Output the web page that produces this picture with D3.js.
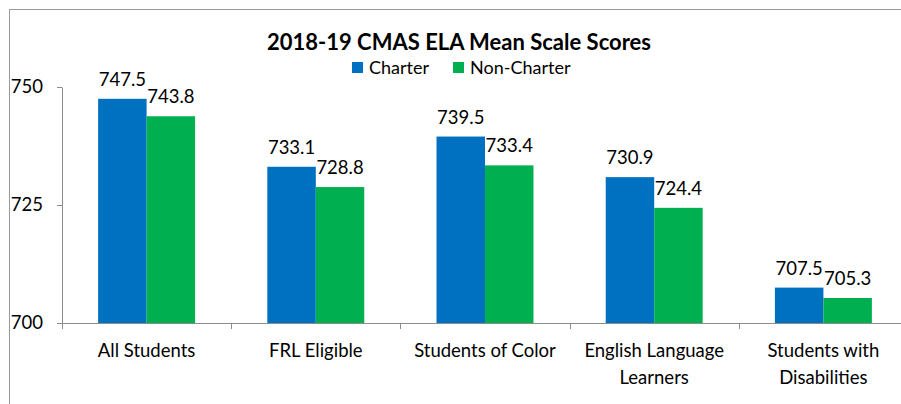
<!DOCTYPE html>
<html>
<head>
<meta charset="utf-8">
<script src="https://cdn.jsdelivr.net/npm/d3@7"></script>
<style>
  html, body { margin: 0; padding: 0; background: #fff; }
  svg { display: block; font-family: Lato, "Open Sans", sans-serif; }
</style>
</head>
<body>
<div id="chart"></div>
<script>
const title = "2018-19 CMAS ELA Mean Scale Scores";
const categories = ["All Students", "FRL Eligible", "Students of Color", "English Language Learners", "Students with Disabilities"];
const seriesNames = ["Charter", "Non-Charter"];
const charter = [747.5, 733.1, 739.5, 730.9, 707.5];
const nonCharter = [743.8, 728.8, 733.4, 724.4, 705.3];
const yTicks = [700, 725, 750];
const colors = ["#0070C0", "#00B050"];

const W = 901, H = 404;
const svg = d3.select("#chart").append("svg").attr("width", W).attr("height", H);

// outer chart border
svg.append("rect").attr("x", 9.5).attr("y", 9.5).attr("width", 905).attr("height", 420)
  .attr("fill", "none").attr("stroke", "#9a9a9a").attr("stroke-width", 1);

const left = 62, bandW = 169.2;
const x0 = d3.scaleBand().domain(categories).range([left, left + bandW * categories.length]).paddingInner(0).paddingOuter(0);
const x1 = d3.scaleBand().domain(seriesNames).range([0, x0.bandwidth()]).paddingInner(0).paddingOuter(0.745);
const y = d3.scaleLinear().domain([700, 750]).range([323, 87]);

// title
svg.append("text").attr("x", 459).attr("y", 50).attr("text-anchor", "middle")
  .attr("font-size", 22).attr("font-weight", "bold").attr("fill", "#000").text(title);

// legend
const legendItems = [{name: seriesNames[0], x: 352}, {name: seriesNames[1], x: 453}];
legendItems.forEach((d, i) => {
  svg.append("rect").attr("x", d.x).attr("y", 62).attr("width", 11).attr("height", 11).attr("fill", colors[i]);
  svg.append("text").attr("x", d.x + 17).attr("y", 73.5).attr("font-size", 18).attr("fill", "#000").text(d.name);
});

// bars
const data = categories.map((c, i) => ({cat: c, vals: [charter[i], nonCharter[i]]}));
const groups = svg.append("g").selectAll("g").data(data).join("g")
  .attr("transform", d => `translate(${x0(d.cat)},0)`);
groups.selectAll("rect").data(d => d.vals.map((v, j) => ({v, s: seriesNames[j], j})))
  .join("rect")
  .attr("x", d => x1(d.s)).attr("width", x1.bandwidth())
  .attr("y", d => y(d.v)).attr("height", d => y(700) - y(d.v))
  .attr("fill", d => colors[d.j]);
groups.selectAll("text.val").data(d => d.vals.map((v, j) => ({v, s: seriesNames[j], j})))
  .join("text").attr("class", "val")
  .attr("x", d => x1(d.s) + x1.bandwidth() / 2)
  .attr("y", d => y(d.v) - 13)
  .attr("text-anchor", "middle").attr("font-size", 18.5).attr("fill", "#000")
  .text(d => d3.format(".1f")(d.v));

// y axis
const yAxis = svg.append("g").attr("transform", `translate(${left},0)`)
  .call(d3.axisLeft(y).tickValues(yTicks).tickSize(5).tickSizeOuter(0).tickPadding(14));
yAxis.select(".domain").attr("stroke", "#8c8c8c");
yAxis.selectAll(".tick line").attr("stroke", "#8c8c8c");
yAxis.selectAll(".tick text").attr("font-size", 18.5).attr("font-family", "Lato, sans-serif").attr("fill", "#000");

// x axis
const xAxisG = svg.append("g").attr("transform", `translate(0,${y(700)})`);
xAxisG.append("line").attr("x1", left - 5).attr("x2", left + bandW * categories.length)
  .attr("y1", 0.5).attr("y2", 0.5).attr("stroke", "#8c8c8c");
const bounds = categories.map(c => x0(c)).concat([x0.range()[1]]);
xAxisG.selectAll("line.tk").data(bounds).join("line").attr("class", "tk")
  .attr("x1", d => Math.round(d) + 0.5).attr("x2", d => Math.round(d) + 0.5)
  .attr("y1", 0).attr("y2", 6).attr("stroke", "#8c8c8c");

// category labels with wrapping
function wrapLines(text, maxW, fs) {
  const ctx = document.createElement("canvas").getContext("2d");
  ctx.font = `${fs}px Lato`;
  const words = text.split(" ");
  const lines = [];
  let cur = "";
  words.forEach(w => {
    const t = cur ? cur + " " + w : w;
    if (ctx.measureText(t).width > maxW && cur) { lines.push(cur); cur = w; }
    else cur = t;
  });
  if (cur) lines.push(cur);
  return lines;
}
categories.forEach(c => {
  const lines = wrapLines(c, 165, 18.5);
  const t = svg.append("text").attr("text-anchor", "middle").attr("font-size", 18.5).attr("fill", "#000");
  lines.forEach((ln, k) => {
    t.append("tspan").attr("x", x0(c) + x0.bandwidth() / 2).attr("y", 356.5 + k * 27).text(ln);
  });
});
</script>
</body>
</html>
